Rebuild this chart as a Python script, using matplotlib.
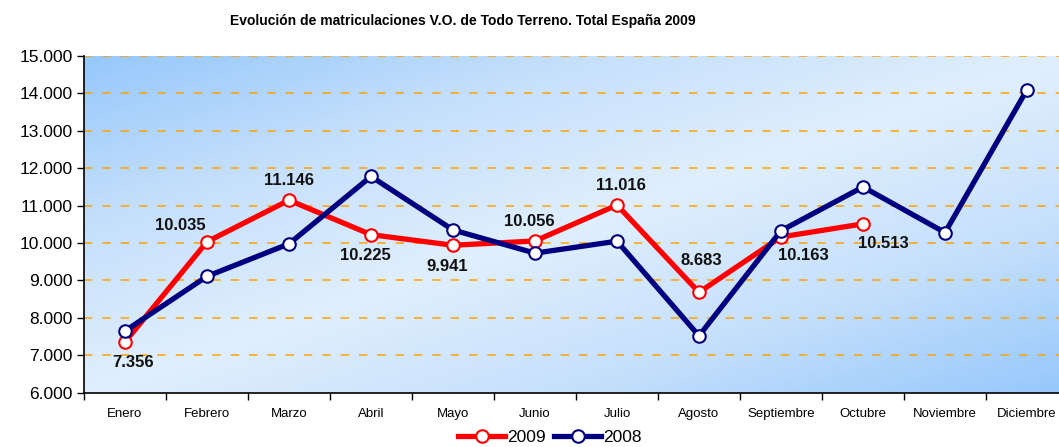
import numpy as np
import matplotlib
matplotlib.use("Agg")
import matplotlib.pyplot as plt
from matplotlib.colors import LinearSegmentedColormap
from matplotlib.ticker import FuncFormatter

months = ["Enero", "Febrero", "Marzo", "Abril", "Mayo", "Junio", "Julio",
          "Agosto", "Septiembre", "Octubre", "Noviembre", "Diciembre"]
v2009 = [7356, 10035, 11146, 10225, 9941, 10056, 11016, 8683, 10163, 10513]
v2008 = [7650, 9110, 9980, 11780, 10350, 9730, 10050, 7520, 10330, 11500, 10280, 14100]
labels2009 = ["7.356", "10.035", "11.146", "10.225", "9.941", "10.056",
              "11.016", "8.683", "10.163", "10.513"]
# label offsets in points (dx, dy)
offsets2009 = [(6, -15), (-19, 12), (0, 14), (-4, -15), (-4, -15), (-4, 14),
               (3, 14), (2, 23), (16, -13), (15, -14)]

plt.rcParams['font.family'] = ['Liberation Sans', 'DejaVu Sans']

fig = plt.figure(figsize=(10.59, 4.47), dpi=100)
ax = fig.add_axes([84 / 1059, 54.3 / 447, 984 / 1059, 336.7 / 447])

# diagonal gradient background: darker top-left and bottom-right corners,
# light band from bottom-left to top-right
n = 300
yy, xx = np.mgrid[0:1:n * 1j, 0:1:n * 1j]
t = (xx + yy) / 2.0  # 0 top-left -> 1 bottom-right
g = np.abs(t - 0.5) * 2
g = g ** 0.95
cmap = LinearSegmentedColormap.from_list("bg", ["#E0EFFD", "#C6E0FC", "#96C8FB"])
ax.imshow(g, cmap=cmap, extent=[-0.5, 11.5, 6000, 15000], aspect="auto",
          origin="upper", zorder=0, interpolation="bilinear")

x = np.arange(len(months))
for yv in range(7000, 15001, 1000):
    ax.axhline(yv, color="#FFA000", lw=1.2, dashes=(5, 6), zorder=1, alpha=0.9)

ax.plot(x[:len(v2009)], v2009, color="#FF0000", lw=3.8, marker="o", ms=9,
        mfc="white", mec="#FF0000", mew=1.5, zorder=3, label="2009")
ax.plot(x, v2008, color="#000080", lw=3.8, marker="o", ms=9,
        mfc="white", mec="#000080", mew=1.5, zorder=4, label="2008")

for xi, yi, lab, (dx, dy) in zip(x, v2009, labels2009, offsets2009):
    ax.annotate(lab, (xi, yi), xytext=(dx, dy), textcoords="offset points",
                ha="center", va="center", fontsize=12, fontweight="bold",
                color="#111111", zorder=5)

ax.set_xlim(-0.5, 11.5)
ax.set_ylim(6000, 15000)
ax.set_yticks(range(6000, 15001, 1000))
ax.yaxis.set_major_formatter(FuncFormatter(lambda v, p: f"{int(v):,}".replace(",", ".")))
ax.set_xticks(np.arange(-0.5, 12, 1))
ax.set_xticklabels([])
ax.set_xticks(x, minor=True)
ax.set_xticklabels(months, minor=True, fontsize=9.5)
ax.tick_params(axis="x", which="major", length=5, direction="out", width=1)
ax.tick_params(axis="x", which="minor", length=0, pad=11)
ax.tick_params(axis="y", length=5, direction="out", width=1, labelsize=12.5, pad=3)
for s in ["top", "right"]:
    ax.spines[s].set_visible(False)
for s in ["left", "bottom"]:
    ax.spines[s].set_linewidth(1.2)
    ax.spines[s].set_zorder(6)

fig.text(463 / 1059, 1 - 21 / 447, "Evolución de matriculaciones V.O. de Todo Terreno. Total España 2009",
         ha="center", va="center", fontsize=10, fontweight="bold")

leg = fig.legend(loc="center", bbox_to_anchor=(550 / 1059, 1 - 437 / 447), ncol=2,
                 frameon=False, fontsize=12.5, handlelength=2.7, handletextpad=0.1,
                 columnspacing=0.5, borderpad=0)

fig.savefig("out.png", dpi=100)
